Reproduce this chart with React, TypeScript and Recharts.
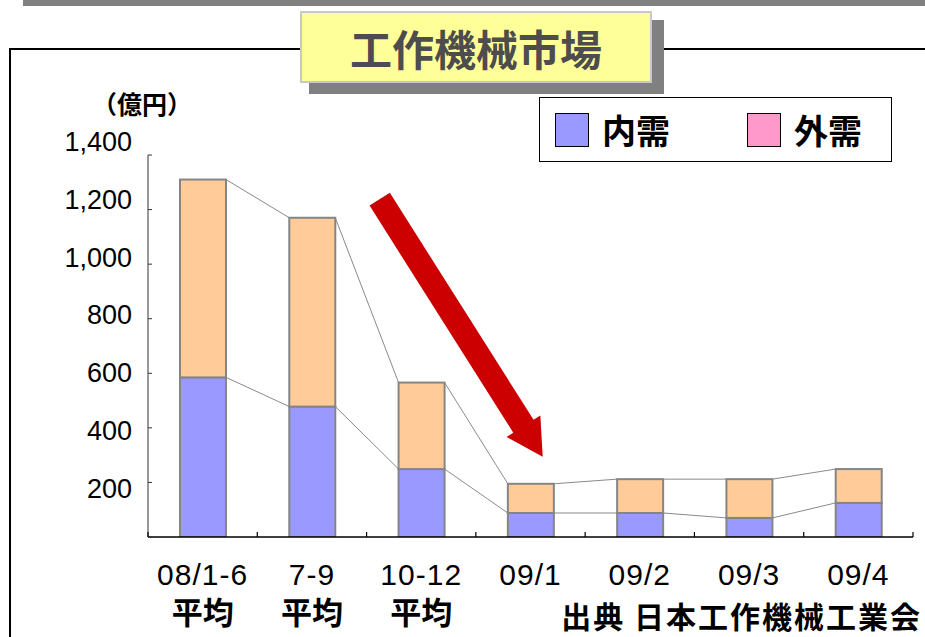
import React from 'react';
import { BarChart, Bar, XAxis, YAxis } from 'recharts';

// Machine-tool orders (億円), averages for 2008 then monthly 2009
const periods = ['08/1-6', '7-9', '10-12', '09/1', '09/2', '09/3', '09/4'];
const periodSubLabels = ['平均', '平均', '平均', '', '', '', ''];
const domesticOrders = [585, 478, 249, 88, 88, 70, 125];
const foreignOrders = [725, 692, 317, 107, 124, 142, 124];
const yTicks = [0, 200, 400, 600, 800, 1000, 1200, 1400];
const legendLabels = ['内需', '外需'];
const legendColors = ['#9999FF', '#FF99CC'];

const W = 925;
const H = 637;
const AXIS_WIDTH = 148;
const MARGIN = { top: 155, right: 12, bottom: 70, left: 0 };
const X_AXIS_HEIGHT = 30;
const STEP = (W - AXIS_WIDTH - MARGIN.left - MARGIN.right) / periods.length;

const DOMESTIC_FILL = '#9999FF';
const FOREIGN_FILL = '#FFCC99';
const EDGE = '#858585';

const LATIN = '"Liberation Sans", Arial, sans-serif';
const CJK = '"Noto Sans CJK JP", "Noto Sans CJK SC", sans-serif';

const rows = periods.map((p, i) => ({
  period: p,
  domestic: domesticOrders[i],
  foreign: foreignOrders[i],
}));

// Bar segment plus the thin series line joining it to the same segment of the next bar
function SeriesBar(props: any) {
  const { x, y, width, height, index, series } = props;
  const i = index as number;
  const own = series === 'domestic' ? domesticOrders[i] : foreignOrders[i];
  const k = own > 0 ? height / own : 0;
  const base = series === 'domestic' ? y + height : y + height + domesticOrders[i] * k;
  let link = null;
  if (i < periods.length - 1) {
    const nextTop =
      series === 'domestic'
        ? domesticOrders[i + 1]
        : domesticOrders[i + 1] + foreignOrders[i + 1];
    const ny = base - nextTop * k;
    link = (
      <line x1={x + width} y1={y} x2={x + STEP} y2={ny} stroke="#8a8a8a" strokeWidth={1} />
    );
  }
  return (
    <g>
      <rect
        x={x}
        y={y}
        width={width}
        height={height}
        fill={series === 'domestic' ? DOMESTIC_FILL : FOREIGN_FILL}
        stroke={EDGE}
        strokeWidth={2}
      />
      {link}
    </g>
  );
}

// Value labels sit a little spread out from their tick marks
const LABEL_PIVOT = 371;
const LABEL_SPREAD = 0.062;

function YTick(props: any) {
  const { x, y, payload } = props;
  const v = payload.value as number;
  const ly = y + (y - LABEL_PIVOT) * LABEL_SPREAD;
  return (
    <g>
      <line x1={x} y1={y} x2={x + 4} y2={y} stroke="#333" strokeWidth={1} />
      {v !== 0 && (
        <text
          x={x - 16}
          y={ly}
          textAnchor="end"
          dominantBaseline="central"
          fontFamily={LATIN}
          fontSize={27}
          fill="#000"
        >
          {v.toLocaleString('en-US')}
        </text>
      )}
    </g>
  );
}

function XTick(props: any) {
  const { x, y, payload, index } = props;
  const i = (index ?? payload.index) as number;
  const left = x - STEP / 2;
  const right = x + STEP / 2;
  return (
    <g>
      <line x1={left} y1={y} x2={left} y2={y - 5} stroke="#000" strokeWidth={1.2} />
      {i === periods.length - 1 && (
        <line x1={right} y1={y} x2={right} y2={y - 5} stroke="#000" strokeWidth={1.2} />
      )}
      <text
        x={x}
        y={y + 37}
        textAnchor="middle"
        dominantBaseline="central"
        fontFamily={LATIN}
        fontSize={30}
        letterSpacing={1}
        fill="#000"
      >
        {payload.value}
      </text>
      {periodSubLabels[i] && (
        <text
          x={x}
          y={y + 73}
          textAnchor="middle"
          dominantBaseline="central"
          fontFamily={CJK}
          fontWeight={700}
          fontSize={31}
          fill="#000"
        >
          {periodSubLabels[i]}
        </text>
      )}
    </g>
  );
}

// Big red downward arrow, built from tail and tip points
function Arrow() {
  const tail = { x: 379.7, y: 199.2 };
  const tip = { x: 542.7, y: 456.7 };
  const dx = tip.x - tail.x;
  const dy = tip.y - tail.y;
  const len = Math.hypot(dx, dy);
  const u = { x: dx / len, y: dy / len };
  const n = { x: -u.y, y: u.x };
  const shaft = 12;
  const wing = 20;
  const headLen = 36;
  const base = { x: tip.x - u.x * headLen, y: tip.y - u.y * headLen };
  const pts = [
    [tail.x + n.x * shaft, tail.y + n.y * shaft],
    [base.x + n.x * shaft, base.y + n.y * shaft],
    [base.x + n.x * wing, base.y + n.y * wing],
    [tip.x, tip.y],
    [base.x - n.x * wing, base.y - n.y * wing],
    [base.x - n.x * shaft, base.y - n.y * shaft],
    [tail.x - n.x * shaft, tail.y - n.y * shaft],
  ]
    .map((p) => p.join(','))
    .join(' ');
  return <polygon points={pts} fill="#CC0000" />;
}

function LegendBox() {
  return (
    <div
      style={{
        position: 'absolute',
        left: 539,
        top: 97,
        width: 353,
        height: 65,
        boxSizing: 'border-box',
        border: '1.5px solid #000',
        background: '#fff',
      }}
    >
      {legendLabels.map((label, i) => (
        <React.Fragment key={label}>
          <div
            style={{
              position: 'absolute',
              left: 15 + i * 192,
              top: 15,
              width: 34,
              height: 34,
              boxSizing: 'border-box',
              border: '1.5px solid #000',
              background: legendColors[i],
            }}
          />
          <div
            style={{
              position: 'absolute',
              left: 62 + i * 192,
              top: 8,
              height: 48,
              lineHeight: '48px',
              fontFamily: CJK,
              fontWeight: 700,
              fontSize: 34,
              color: '#000',
              whiteSpace: 'nowrap',
            }}
          >
            {label}
          </div>
        </React.Fragment>
      ))}
    </div>
  );
}

export default function App() {
  return (
    <div
      style={{
        position: 'absolute',
        left: 0,
        top: 0,
        width: W,
        height: H,
        overflow: 'hidden',
        background: '#fff',
      }}
    >
      {/* top rule and frame */}
      <div style={{ position: 'absolute', left: 23, top: 0, width: W - 23, height: 6, background: '#808080' }} />
      <div style={{ position: 'absolute', left: 9, top: 48, width: W - 9, height: 2, background: '#000' }} />
      <div style={{ position: 'absolute', left: 9, top: 48, width: 2, height: H - 48, background: '#000' }} />

      <div style={{ position: 'absolute', left: 0, top: 0 }}>
        <BarChart width={W} height={H} data={rows} margin={MARGIN} barSize={46}>
          <XAxis
            dataKey="period"
            height={X_AXIS_HEIGHT}
            interval={0}
            tickSize={0}
            tickMargin={0}
            tickLine={false}
            axisLine={{ stroke: '#000', strokeWidth: 1.5 }}
            tick={<XTick />}
          />
          <YAxis
            width={AXIS_WIDTH}
            domain={[0, 1400]}
            ticks={yTicks}
            interval={0}
            allowDataOverflow
            tickSize={0}
            tickMargin={0}
            tickLine={false}
            axisLine={{ stroke: '#333', strokeWidth: 1 }}
            tick={<YTick />}
          />
          <Bar
            dataKey="domestic"
            stackId="orders"
            isAnimationActive={false}
            shape={(p: any) => <SeriesBar {...p} series="domestic" />}
          />
          <Bar
            dataKey="foreign"
            stackId="orders"
            isAnimationActive={false}
            shape={(p: any) => <SeriesBar {...p} series="foreign" />}
          />
        </BarChart>
      </div>

      <svg
        width={W}
        height={H}
        style={{ position: 'absolute', left: 0, top: 0, pointerEvents: 'none' }}
      >
        <Arrow />
      </svg>

      {/* title panel with drop shadow */}
      <div style={{ position: 'absolute', left: 309, top: 20, width: 355, height: 74, background: '#808080' }} />
      <div
        style={{
          position: 'absolute',
          left: 300,
          top: 11,
          width: 352,
          height: 72,
          boxSizing: 'border-box',
          border: '2px solid #c8c8c8',
          background: '#FFFF99',
          display: 'flex',
          alignItems: 'center',
          justifyContent: 'center',
          fontFamily: CJK,
          fontWeight: 700,
          fontSize: 42,
          color: '#4d4d4d',
          whiteSpace: 'nowrap',
        }}
      >
        工作機械市場
      </div>

      <div
        style={{
          position: 'absolute',
          left: 87,
          top: 86,
          width: 110,
          textAlign: 'center',
          fontFamily: CJK,
          fontWeight: 700,
          fontSize: 25,
          lineHeight: '34px',
          color: '#000',
          whiteSpace: 'nowrap',
        }}
      >
        （億円）
      </div>

      <LegendBox />

      <div
        style={{
          position: 'absolute',
          left: 540,
          top: 599,
          width: 382,
          textAlign: 'right',
          fontFamily: CJK,
          fontWeight: 700,
          fontSize: 30,
          lineHeight: '32px',
          letterSpacing: 2,
          color: '#000',
          whiteSpace: 'nowrap',
        }}
      >
        出典 日本工作機械工業会
      </div>
    </div>
  );
}
